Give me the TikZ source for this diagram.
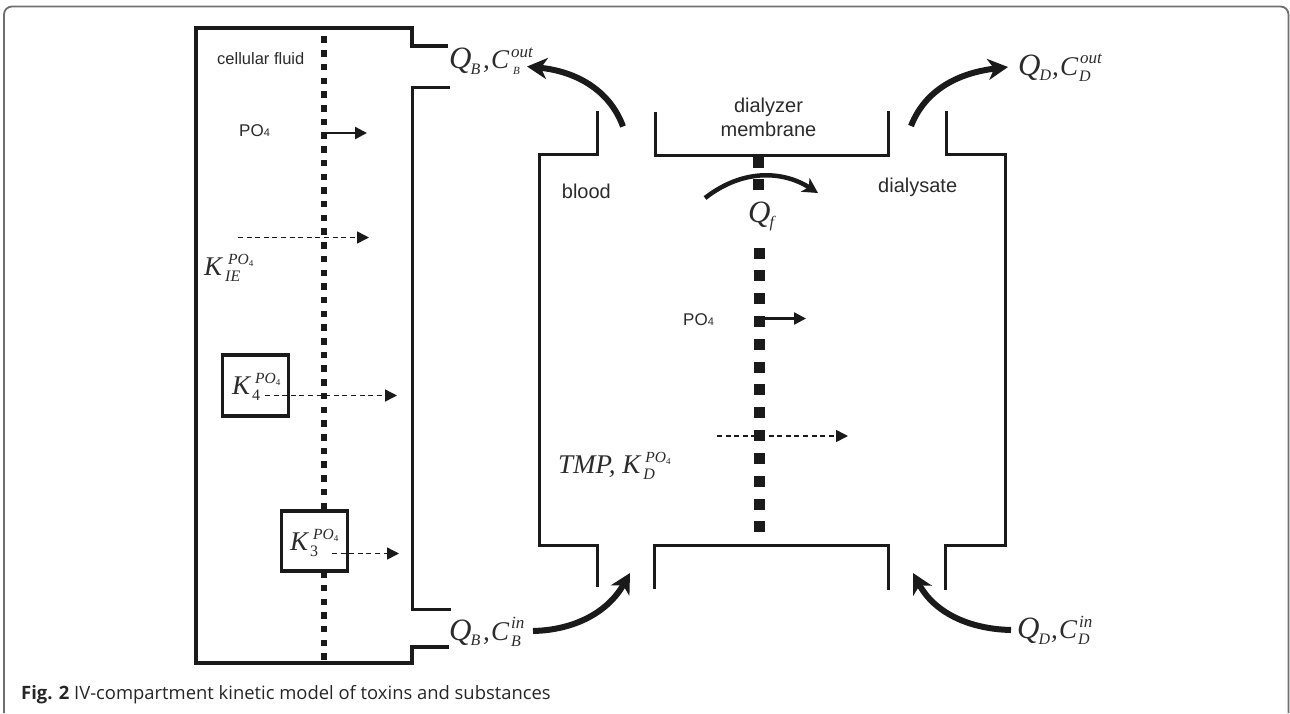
\documentclass[tikz,border=0pt]{standalone}
\usepackage{fontspec}
\setmainfont{Liberation Sans}
\newfontfamily\symfont{Liberation Serif}
\newfontfamily\capfont{Open Sans}
\usepackage{xcolor}
\usetikzlibrary{arrows.meta}

\definecolor{inkblack}{HTML}{1A1A1A}
\definecolor{labelgray}{HTML}{2B2B2B}
\definecolor{framegray}{HTML}{6E6E6E}

% index sizes in pt
\newcommand{\sizedbox}[2]{\hbox{\fontsize{#1}{#1}\selectfont #2}}
\newcommand{\pofour}{\hbox{\fontsize{15.5}{15.5}\selectfont PO\raisebox{-0.15em}{\upshape\fontsize{9}{9}\selectfont 4}}}
\newcommand{\ksym}[3]{$\hbox{K}^{\kern#1pt\pofour}_{\kern#2pt\sizedbox{16}{#3}}$}
% Q with index, comma, C with both indices at fixed distances
\newcommand{\qsym}[5]{\hbox to 34pt{$\hbox{\fontsize{31}{31}\selectfont Q}_{\kern-1pt\sizedbox{16}{#1}}$\hss}\hbox to 8pt{,\hss}$\hbox{C}^{\kern2pt\sizedbox{17}{#2}}_{\kern#5pt\sizedbox{#4}{#3}}$}

\tikzset{
  wall/.style={draw=inkblack, line width=3pt, line join=miter},
  outerwall/.style={draw=inkblack, line width=3.5pt, line join=miter},
  cellpore/.style={fill=inkblack, minimum size=6.5pt, inner sep=0pt},
  mempore/.style={fill=inkblack, minimum size=11pt, inner sep=0pt},
  kinbox/.style={draw=inkblack, fill=white, line width=3.6pt},
  fluxsolid/.style={draw=inkblack, line width=2.4pt, -{Triangle[length=12pt,width=12pt]}},
  fluxdash/.style={draw=inkblack, line width=1.5pt, dash pattern=on 5pt off 3.6pt, -{Triangle[length=12pt,width=12pt,fill=inkblack]}},
  flowarrow/.style={draw=inkblack, line width=6pt, -{Stealth[length=20pt,width=21pt,inset=6pt]}},
  txtlabel/.style={inner sep=0pt, anchor=base west, text=labelgray},
  symlabel/.style={inner sep=0pt, anchor=base west, text=labelgray, font=\symfont\itshape\fontsize{27}{27}\selectfont},
}

\begin{document}
\begin{tikzpicture}[x=1pt, y=-1pt]
  \useasboundingbox (0,0) rectangle (1290,713);

  % Page frame
  \draw[framegray, line width=1.8pt, rounded corners=8pt] (4,713) -- (4,6.5) -- (1288.5,6.5) -- (1288.5,713);

  % Cellular compartment
  \draw[outerwall] (448,46) -- (412,46) -- (412,28) -- (196,28) -- (196,663) -- (412,663) -- (412,647) -- (449,647);
  \draw[wall] (450,87) -- (412.5,87) -- (412.5,609) -- (451,609);

  % Cell membrane
  \foreach \k in {0,...,45}
    \node[cellpore] (cp\k) at (324,39.7+13.71*\k) {};

  % Dialyzer walls
  \draw[wall] (597,111) -- (597,154) -- (539,154) -- (539,545) -- (597,545) -- (597,587);
  \draw[wall] (655,112) -- (655,155) -- (888,155) -- (888,111);
  \draw[wall] (946,111) -- (946,154) -- (1005,154) -- (1005,545) -- (945,545) -- (945,590);
  \draw[wall] (654,589) -- (654,545) -- (888,545) -- (888,590);

  % Dialyzer membrane
  \node[mempore] (mpa) at (758.5,162) {};
  \node[mempore] (mpb) at (758.5,184.5) {};
  \foreach \k in {0,...,12}
    \node[mempore] (mp\k) at (759,253+22.83*\k) {};

  % Boxes on the cell membrane
  \node[kinbox, minimum width=66pt, minimum height=61pt] (kfour) at (255.5,385.5) {};
  \node[kinbox, minimum width=66pt, minimum height=60pt] (kthree) at (314.5,541) {};

  % Transport arrows
  \draw[fluxsolid] (324,133) -- (367,133);
  \draw[fluxdash] (238,237.5) -- (369,237.5);
  \draw[fluxdash] (265,395.5) -- (397,395.5);
  \draw[fluxdash] (332,553.5) -- (399,553.5);
  \draw[fluxsolid] (759,318.5) -- (806,318.5);
  \draw[fluxdash] (717,436) -- (848,436);

  % Blood and dialysate flow
  \draw[flowarrow] (623,126.5) .. controls (609,88) and (573,71) .. (527,66.5);
  \draw[flowarrow] (911,126) .. controls (925,90) and (958,73) .. (1008,67);
  \draw[flowarrow] (533,631) .. controls (575,630) and (608,612) .. (630,573);
  \draw[flowarrow] (1011,630) .. controls (968,629) and (934,612) .. (913,573);
  \draw[flowarrow, line width=4.5pt, -{Stealth[length=15pt,width=16pt,inset=4pt]}] (705,198) .. controls (745,167) and (785,172) .. (818,193);

  % Texts
  \node[txtlabel, font=\fontsize{16.5}{16.5}\selectfont] (cellular) at (217,64.5) {cellular fluid};
  \node[txtlabel, font=\fontsize{17}{17}\selectfont] (pocell) at (239,136) {PO{\fontsize{11}{11}\selectfont 4}};
  \node[txtlabel, font=\fontsize{17}{17}\selectfont] (pomem) at (683,325) {PO{\fontsize{11}{11}\selectfont 4}};
  \node[inner sep=0pt, anchor=base, text=labelgray, font=\fontsize{20}{24}\selectfont, align=center] (membrane) at (768.5,136.7) {dialyzer\\membrane};
  \node[txtlabel, font=\fontsize{20}{20}\selectfont] (blood) at (561.7,198) {blood};
  \node[txtlabel, font=\fontsize{20}{20}\selectfont] (dialysate) at (878,192) {dialysate};

  % Symbols
  \node[symlabel] (qbout) at (449,68.5) {\qsym{B}{out}{B}{11}{4}};
  \node[symlabel] (qbin) at (449,640) {\qsym{B}{in}{B}{16}{2}};
  \node[symlabel] (qdout) at (1018,75) {\qsym{D}{out}{D}{16}{1}};
  \node[symlabel] (qdin) at (1017,638.5) {\qsym{D}{in}{D}{16}{1}};
  \node[symlabel] (kie) at (204,275) {\ksym{6}{3}{IE}};
  \node[symlabel] (kfourlab) at (232,394) {\ksym{5}{2}{\upshape 4}};
  \node[symlabel] (kthreelab) at (290,550) {\ksym{5}{2}{\upshape 3}};
  \node[symlabel] (tmp) at (558,473) {TMP,\kern7pt\ksym{5}{3}{D}};
  \node[symlabel] (qf) at (748,222) {$\hbox{\fontsize{31}{31}\selectfont Q}_{\kern-1pt\sizedbox{16}{f}}$};

  % Caption
  \node[inner sep=0pt, anchor=base west, text=black!85, font=\capfont\fontsize{18.4}{18.4}\selectfont] (caption) at (21,699) {\textbf{Fig. 2} IV-compartment kinetic model of toxins and substances};
\end{tikzpicture}
\end{document}
